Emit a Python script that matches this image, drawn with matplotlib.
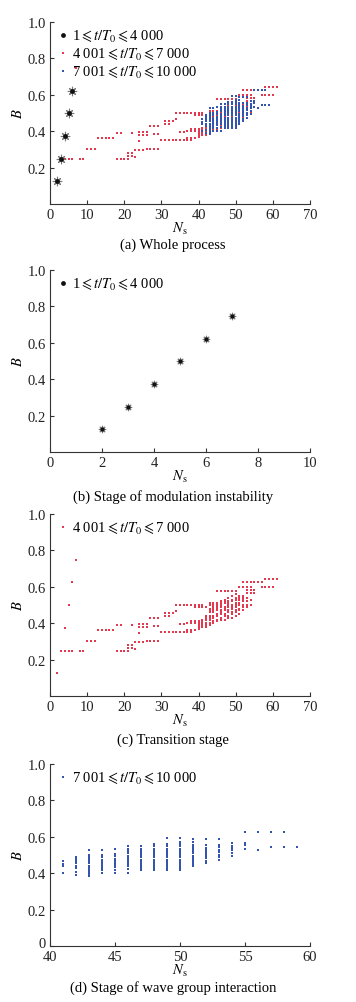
import matplotlib
matplotlib.use("Agg")
import matplotlib.pyplot as plt
import matplotlib.transforms as mtransforms

# -------------------------------
# Data
# -------------------------------
# stage 1 (modulation instability), black stars
stage1_N = [2, 3, 4, 5, 6, 7]
stage1_B = [0.125, 0.25, 0.375, 0.50, 0.62, 0.745]
stage1_N_whole = [2, 3, 4, 5, 6]
stage1_B_whole = [0.125, 0.25, 0.375, 0.50, 0.62]

# stage 2 (transition), red dots: horizontal runs (B, list of Ns)
red_runs = [
    (0.125, [2]), (0.375, [4]), (0.50, [5]), (0.625, [6]), (0.75, [7]),
    (0.25, [3, 4, 5, 6]), (0.25, [8, 9]),
    (0.30, [10, 11, 12]),
    (0.36, [13, 14, 15, 16, 17]),
    (0.39, [18, 19]),
    (0.25, [18, 19, 20, 21]),
    (0.265, [21, 22]), (0.278, [21, 22]), (0.26, [23]),
    (0.39, [22]),
    (0.295, [23, 24, 25]), (0.302, [26, 27, 28, 29]),
    (0.345, [24]), (0.38, [24, 25, 26]), (0.395, [24, 25, 26]),
    (0.43, [27, 28, 29]), (0.385, [28, 29]),
    (0.35, [30, 31, 32, 33, 34, 35, 36, 37, 38]), (0.36, [37, 38, 39]),
    (0.44, [31, 32]), (0.455, [31, 32, 33]), (0.465, [34]),
    (0.50, [34, 35, 36, 37, 38, 39, 40, 41]), (0.49, [39, 40, 41, 42]),
    (0.395, [35, 36]), (0.40, [37, 38, 39]), (0.41, [38, 39]),
    (0.575, [45, 46, 47, 48, 49, 50]),
    (0.60, [51, 52, 53, 54]),
    (0.625, [52, 53, 54, 55, 56, 57]),
    (0.645, [58, 59, 60, 61]),
    (0.60, [57, 58, 59, 60]),
    (0.58, [53, 54, 55]), (0.565, [53, 54, 55]),
]
# red dense block: columns (Ns, list of B)
red_cols = [
    (40, [0.37, 0.38, 0.39, 0.40, 0.41]),
    (41, [0.38, 0.39, 0.40, 0.41, 0.42]),
    (42, [0.38, 0.39, 0.40, 0.42, 0.43, 0.44]),
    (43, [0.39, 0.40, 0.42, 0.43, 0.44, 0.46, 0.47, 0.48, 0.50, 0.51]),
    (44, [0.40, 0.41, 0.43, 0.44, 0.46, 0.47, 0.48, 0.49, 0.50, 0.51]),
    (45, [0.41, 0.42, 0.44, 0.45, 0.47, 0.48, 0.49, 0.50, 0.51]),
    (46, [0.42, 0.43, 0.45, 0.46, 0.47, 0.49, 0.50, 0.51, 0.52]),
    (47, [0.42, 0.44, 0.45, 0.47, 0.48, 0.49, 0.51, 0.52, 0.53]),
    (48, [0.43, 0.44, 0.46, 0.47, 0.49, 0.50, 0.51, 0.52, 0.54]),
    (49, [0.43, 0.45, 0.46, 0.48, 0.49, 0.50, 0.52, 0.53, 0.55]),
    (50, [0.44, 0.46, 0.47, 0.49, 0.50, 0.51, 0.53, 0.54, 0.56]),
    (51, [0.45, 0.47, 0.48, 0.50, 0.51, 0.53, 0.54, 0.55]),
    (52, [0.47, 0.49, 0.50, 0.52, 0.53, 0.54, 0.55]),
    (53, [0.49, 0.50, 0.52, 0.54]),
    (54, [0.50, 0.53]),
]

# stage 3 (wave group interaction), blue dots: columns (Ns, list of B)
blue_cols = [
    (41, [0.400, 0.440, 0.452, 0.465]),
    (42, [0.392, 0.405, 0.430, 0.442, 0.454, 0.466, 0.478, 0.488]),
    (43, [0.382, 0.394, 0.406, 0.418, 0.430, 0.442, 0.454, 0.466, 0.478,
          0.490, 0.502, 0.525]),
    (44, [0.400, 0.415, 0.427, 0.439, 0.451, 0.463, 0.475, 0.487, 0.500,
          0.528]),
    (45, [0.400, 0.420, 0.432, 0.444, 0.456, 0.468, 0.480, 0.492, 0.504,
          0.535]),
    (46, [0.400, 0.425, 0.437, 0.449, 0.461, 0.473, 0.485, 0.497, 0.509,
          0.521, 0.533, 0.550]),
    (47, [0.415, 0.427, 0.439, 0.451, 0.463, 0.475, 0.487, 0.499, 0.511,
          0.523, 0.535, 0.552]),
    (48, [0.415, 0.427, 0.439, 0.451, 0.463, 0.475, 0.487, 0.499, 0.511,
          0.523, 0.535, 0.547, 0.560]),
    (49, [0.415, 0.427, 0.439, 0.451, 0.463, 0.475, 0.487, 0.499, 0.511,
          0.523, 0.535, 0.547, 0.560, 0.592]),
    (50, [0.415, 0.427, 0.439, 0.451, 0.463, 0.475, 0.487, 0.499, 0.511,
          0.523, 0.535, 0.547, 0.559, 0.571, 0.592]),
    (51, [0.437, 0.449, 0.461, 0.473, 0.485, 0.497, 0.509, 0.521, 0.533,
          0.545, 0.557, 0.569, 0.590]),
    (52, [0.457, 0.469, 0.481, 0.493, 0.505, 0.517, 0.529, 0.541, 0.553,
          0.588]),
    (53, [0.470, 0.490, 0.502, 0.515, 0.530, 0.542, 0.554, 0.588]),
    (54, [0.497, 0.510, 0.525, 0.537, 0.549, 0.565]),
    (55, [0.535, 0.555, 0.565, 0.625]),
    (56, [0.528, 0.625]),
    (57, [0.543, 0.625]),
    (58, [0.543, 0.625]),
    (59, [0.543]),
]

labels = [r'1$\leqslant t/T_0\leqslant$4 000',
          r'4 001$\leqslant t/T_0\leqslant$7 000',
          r'7 001$\leqslant t/T_0\leqslant$10 000']
titles = ['(a) Whole process', '(b) Stage of modulation instability',
          '(c) Transition stage', '(d) Stage of wave group interaction']

# -------------------------------
# Flatten runs / columns
# -------------------------------
red_N, red_B = [], []
for b, ns in red_runs:
    for n in ns:
        red_N.append(n)
        red_B.append(b)
for n, bs in red_cols:
    for b in bs:
        red_N.append(n)
        red_B.append(b)

blue_N, blue_B = [], []
for n, bs in blue_cols:
    for b in bs:
        blue_N.append(n)
        blue_B.append(b)

# -------------------------------
# Style
# -------------------------------
plt.rcParams['font.family'] = ['Liberation Serif', 'DejaVu Serif']
plt.rcParams['mathtext.fontset'] = 'stix'
plt.rcParams['font.size'] = 10.5

RED = '#e2394f'
BLUE = '#3355b0'
FS = 10.5
DOT = 4

fig = plt.figure(figsize=(3.56, 10.03), dpi=100)

left, width, height = 50 / 356, 260 / 356, 182 / 1003
bottoms = [1 - 205 / 1003, 1 - 453 / 1003, 1 - 697 / 1003, 1 - 947 / 1003]
title_y = [245, 497, 740, 988]


def star(ax, x, y, big):
    s1 = 38 if big else 22
    ax.scatter(x, y, s=s1, marker=(8, 2, 0), color='#777777', lw=0.8, zorder=4)
    ax.scatter(x, y, s=12 if big else 9, marker='o', color='#111111',
               lw=0, zorder=5)


def style(ax, xlim, xticks, yticks, k):
    ax.set_xlim(*xlim)
    ax.set_ylim(0, 1.0)
    ax.set_xticks(xticks)
    ax.set_yticks(yticks)
    ax.set_yticklabels(['0' if t == 0 else f'{t:.1f}' for t in yticks])
    for sp in ['top', 'right']:
        ax.spines[sp].set_visible(False)
    for sp in ['left', 'bottom']:
        ax.spines[sp].set_color('#333333')
        ax.spines[sp].set_linewidth(0.8)
    ax.tick_params(direction='in', length=3, width=0.8, colors='#333333',
                   labelsize=FS, labelcolor='#222222', pad=3)
    ax.set_xlabel(r'$N_{\rm s}$', fontsize=FS, labelpad=-1)
    ax.set_ylabel(r'$B$', fontsize=FS, labelpad=2)
    fig.text(left + 0.5 * width - 0.02, 1 - title_y[k] / 1003,
             titles[k], ha='center', va='center', fontsize=FS)


def legend(ax, handles, labs):
    ax.legend(handles, labs, loc='upper left', frameon=False,
              fontsize=FS, handletextpad=0.1, borderaxespad=0.2,
              labelspacing=0.2, borderpad=0.2, handlelength=1.0)


axes = [fig.add_axes([left, b, width, height]) for b in bottoms]

h1 = axes[0].scatter([], [], s=12, marker='o', color='#111111', lw=0)
h2 = axes[0].scatter([], [], s=DOT, marker='s', color=RED, lw=0)
h3 = axes[0].scatter([], [], s=DOT, marker='s', color=BLUE, lw=0)

# (a) whole process
ax = axes[0]
ax.scatter(red_N, red_B, s=DOT, marker='s', color=RED, lw=0, zorder=2)
ax.scatter(blue_N, blue_B, s=DOT, marker='s', color=BLUE, lw=0, zorder=3)
star(ax, stage1_N_whole, stage1_B_whole, True)
legend(ax, [h1, h2, h3], labels)
style(ax, (0, 70), range(0, 71, 10), [0.2, 0.4, 0.6, 0.8, 1.0], 0)

# (b) modulation instability
ax = axes[1]
star(ax, stage1_N, stage1_B, False)
legend(ax, [h1], labels[:1])
style(ax, (0, 10), range(0, 11, 2), [0.2, 0.4, 0.6, 0.8, 1.0], 1)

# (c) transition stage
ax = axes[2]
ax.scatter(red_N, red_B, s=DOT, marker='s', color=RED, lw=0, zorder=2)
legend(ax, [h2], labels[1:2])
style(ax, (0, 70), range(0, 71, 10), [0.2, 0.4, 0.6, 0.8, 1.0], 2)

# (d) wave group interaction
ax = axes[3]
ax.scatter(blue_N, blue_B, s=DOT, marker='s', color=BLUE, lw=0, zorder=2)
legend(ax, [h3], labels[2:])
style(ax, (40, 60), range(40, 61, 5), [0, 0.2, 0.4, 0.6, 0.8, 1.0], 3)
# lift the y "0" a little so it does not sit on the x "40"
lab0 = ax.get_yticklabels()[0]
lab0.set_transform(lab0.get_transform() +
                   mtransforms.ScaledTranslation(0, 3 / 72, fig.dpi_scale_trans))

fig.savefig('out.png', dpi=100)
